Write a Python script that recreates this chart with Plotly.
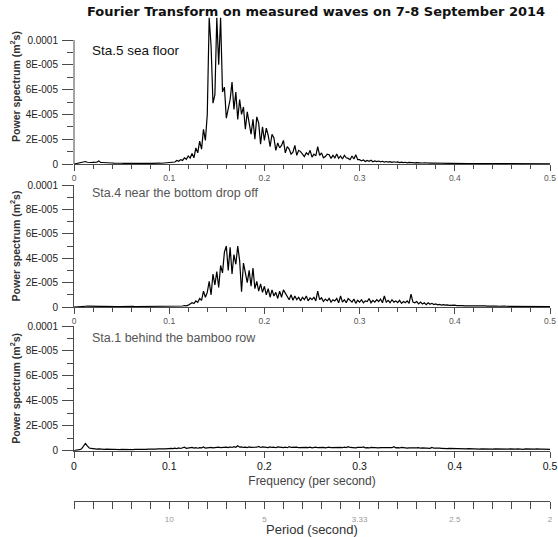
import numpy as np
import plotly.graph_objects as go

# Frequency grid (cycles per second), 0.002 spacing from 0 to 0.5
FREQ = np.round(np.arange(251) * 0.002, 3)

# Power spectra in units of 1e-6 m^2 s
STA5_SEA_FLOOR = [
    0.0, 0.3, 0.6, 1.0, 1.3, 1.5, 2.0, 1.4, 1.6, 1.2,
    1.3, 1.1, 1.4, 2.5, 1.3, 1.2, 1.0, 1.1, 0.8, 0.9,
    0.8, 0.7, 0.8, 0.6, 0.7, 0.6, 0.5, 0.6, 0.5, 0.6,
    0.5, 0.5, 0.6, 0.5, 0.6, 0.5, 0.6, 0.5, 0.5, 0.6,
    0.6, 0.5, 0.7, 0.6, 0.6, 0.7, 0.6, 0.8, 0.7, 0.9,
    1.0, 1.3, 2.0, 1.6, 2.8, 2.2, 3.5, 2.9, 5.0, 3.8,
    6.5, 4.8, 8.5, 5.0, 13.0, 9.0, 18.5, 12.0, 28.0, 19.0,
    40.0, 118.0, 95.0, 49.0, 56.0, 118.0, 80.0, 118.0, 58.0, 62.0,
    37.0, 45.0, 52.0, 66.0, 44.0, 58.0, 36.0, 52.0, 40.0, 46.0,
    28.0, 42.0, 31.0, 24.0, 36.0, 20.0, 38.0, 33.0, 16.0, 30.0,
    19.0, 29.0, 23.0, 14.0, 24.0, 21.0, 11.0, 17.0, 13.0, 15.0,
    19.0, 9.0, 14.0, 12.0, 8.0, 9.5, 15.0, 7.0, 11.0, 10.0,
    8.0, 6.0, 9.0, 7.5, 11.0, 5.5, 8.0, 6.5, 14.0, 7.0,
    9.0, 5.0, 6.0, 8.0, 7.5, 4.5, 7.0, 5.0, 8.0, 4.5,
    6.5, 4.0, 7.0, 5.0, 4.5, 3.5, 6.5, 4.0, 7.5, 3.5,
    3.5, 2.5, 3.2, 2.0, 2.8, 2.2, 3.0, 1.8, 2.5, 2.0,
    2.4, 1.7, 2.2, 1.5, 2.0, 1.6, 1.9, 1.3, 1.8, 1.4,
    1.7, 1.2, 1.5, 1.1, 1.4, 1.0, 1.3, 1.0, 1.2, 0.9,
    1.1, 0.9, 1.0, 0.8, 1.0, 0.7, 0.9, 0.7, 0.8, 0.7,
    0.8, 0.6, 0.7, 0.6, 0.7, 0.5, 0.6, 0.5, 0.6, 0.5,
    0.5, 0.4, 0.5, 0.4, 0.5, 0.4, 0.4, 0.3, 0.4, 0.3,
    0.4, 0.3, 0.3, 0.4, 0.3, 0.3, 0.3, 0.2, 0.3, 0.3,
    0.3, 0.2, 0.3, 0.2, 0.3, 0.2, 0.2, 0.3, 0.2, 0.2,
    0.2, 0.2, 0.3, 0.2, 0.2, 0.2, 0.2, 0.2, 0.3, 0.2,
    0.2, 0.2, 0.2, 0.2, 0.3, 0.2, 0.2, 0.2, 0.2, 0.2, 0.2,
]

STA4_DROP_OFF = [
    0.0, 0.2, 0.4, 0.5, 0.6, 0.5, 0.6, 0.7, 0.6, 0.5,
    0.6, 0.5, 0.6, 0.5, 0.5, 0.6, 0.5, 0.4, 0.5, 0.4,
    0.5, 0.4, 0.5, 0.4, 0.4, 0.5, 0.4, 0.4, 0.5, 0.4,
    0.4, 0.5, 0.4, 0.4, 0.5, 0.4, 0.4, 0.5, 0.4, 0.4,
    0.5, 0.4, 0.5, 0.4, 0.5, 0.5, 0.4, 0.5, 0.6, 0.5,
    0.6, 0.5, 0.7, 0.6, 0.8, 0.7, 0.9, 0.8, 1.2, 1.0,
    1.5, 2.5, 3.5, 2.8, 5.0, 3.8, 7.0, 5.5, 13.0, 8.0,
    12.0, 21.0, 10.0, 27.0, 18.0, 29.0, 16.0, 34.0, 28.0, 45.0,
    50.0, 30.0, 49.0, 27.0, 43.0, 35.0, 50.0, 38.0, 12.5, 36.0,
    28.0, 20.0, 30.0, 17.0, 32.0, 15.0, 21.0, 13.0, 19.0, 12.0,
    17.0, 10.0, 15.0, 8.0, 14.0, 9.0, 12.0, 7.0, 13.0, 8.0,
    14.0, 11.0, 9.0, 6.0, 10.0, 5.5, 9.0, 6.0, 8.0, 5.0,
    8.0, 6.0, 9.0, 5.0, 7.5, 6.0, 8.0, 5.0, 13.0, 6.0,
    7.5, 4.5, 6.5, 5.0, 7.0, 4.0, 6.0, 5.0, 7.0, 3.5,
    9.0, 4.0, 6.0, 3.5, 7.0, 5.0, 4.0, 6.5, 3.0, 5.5,
    4.0, 6.0, 3.5, 5.0, 4.5, 7.0, 3.5, 5.5, 4.0, 6.0,
    4.5, 6.5, 3.5, 9.0, 4.0, 5.5, 3.5, 6.0, 4.0, 5.0,
    3.5, 5.5, 3.0, 4.5, 3.5, 5.0, 3.0, 10.5, 4.0, 3.5,
    4.5, 2.5, 4.0, 2.5, 3.5, 2.0, 3.5, 2.2, 3.0, 2.0,
    2.5, 1.8, 2.2, 1.6, 2.0, 1.5, 1.8, 1.4, 1.6, 1.3,
    1.5, 1.2, 1.3, 1.1, 1.2, 1.0, 1.1, 1.0, 1.1, 0.9,
    1.0, 0.9, 1.0, 0.8, 0.9, 0.8, 0.9, 0.7, 0.8, 0.7,
    0.8, 0.7, 0.7, 0.6, 0.8, 0.6, 0.7, 0.6, 0.6, 0.7,
    0.6, 0.5, 0.6, 0.5, 0.6, 0.5, 0.5, 0.6, 0.5, 0.5,
    0.5, 0.5, 0.4, 0.5, 0.5, 0.4, 0.5, 0.4, 0.4, 0.5, 0.4,
]

STA1_BAMBOO_ROW = [
    0.0, 0.2, 0.4, 0.8, 1.5, 3.2, 5.8, 3.8, 2.2, 1.8,
    1.5, 1.8, 1.3, 1.5, 1.2, 1.4, 1.1, 1.3, 1.0, 1.2,
    1.0, 1.1, 0.9, 1.0, 0.8, 1.0, 0.9, 0.8, 1.0, 0.9,
    1.0, 0.9, 1.1, 1.0, 1.2, 1.0, 1.1, 1.2, 1.0, 1.3,
    1.2, 1.1, 1.4, 1.2, 1.5, 1.3, 1.6, 1.4, 1.5, 1.7,
    1.5, 1.8, 1.6, 2.0, 1.7, 2.2, 1.8, 2.0, 2.8, 1.9,
    2.2, 2.0, 2.6, 2.1, 2.4, 2.0, 2.5, 2.2, 3.0, 2.1,
    2.4, 2.2, 2.7, 2.3, 2.5, 2.1, 2.8, 2.4, 2.6, 2.2,
    2.9, 2.5, 3.0, 2.6, 3.2, 2.7, 4.0, 2.8, 3.1, 2.6,
    2.9, 2.5, 3.1, 2.7, 2.6, 3.0, 2.8, 3.4, 2.6, 3.0,
    2.7, 2.9, 2.5, 3.1, 2.6, 2.8, 2.4, 3.0, 2.6, 2.7,
    2.5, 2.8, 2.4, 3.2, 2.6, 2.7, 2.5, 2.9, 2.4, 2.6,
    2.8, 2.4, 2.7, 2.5, 2.9, 2.3, 2.6, 2.8, 2.4, 2.7,
    2.5, 2.7, 2.3, 2.6, 2.8, 2.4, 2.5, 2.3, 2.7, 2.5,
    2.6, 2.4, 2.8, 2.5, 3.2, 2.6, 2.4, 2.7, 2.3, 2.6,
    2.4, 2.6, 3.0, 2.3, 2.5, 2.2, 2.6, 2.4, 2.3, 2.5,
    2.2, 2.4, 2.3, 2.5, 2.2, 2.6, 2.3, 2.4, 3.2, 2.3,
    2.5, 2.2, 2.6, 2.3, 2.4, 2.1, 2.3, 2.2, 2.4, 2.0,
    2.2, 2.4, 2.0, 2.3, 2.1, 2.0, 2.2, 1.9, 2.6, 2.0,
    2.1, 1.8, 2.0, 1.9, 1.7, 1.9, 1.6, 1.8, 1.7, 1.6,
    1.7, 1.5, 1.6, 1.7, 1.5, 1.6, 1.4, 1.6, 1.5, 1.4,
    1.6, 1.4, 1.5, 1.3, 1.5, 1.4, 1.6, 1.3, 1.4, 1.5,
    1.3, 1.5, 1.4, 1.2, 1.4, 1.3, 1.5, 1.2, 1.3, 1.4,
    1.2, 1.4, 1.3, 1.5, 1.2, 1.3, 1.1, 1.4, 1.3, 1.2,
    1.3, 1.1, 1.2, 1.4, 1.1, 1.2, 1.3, 1.1, 1.2, 1.1, 1.0,
]

STATION_NAMES = [
    "Sta.5 sea floor",
    "Sta.4 near the bottom drop off",
    "Sta.1 behind the bamboo row",
]
FREQ_TICKS = [0, 0.1, 0.2, 0.3, 0.4, 0.5]
FREQ_TICK_LABELS = ["0", "0.1", "0.2", "0.3", "0.4", "0.5"]
PSD_TICKS = [0, 2e-5, 4e-5, 6e-5, 8e-5, 1e-4]
PSD_TICK_LABELS = ["0", "2E-005", "4E-005", "6E-005", "8E-005", "0.0001"]
PERIOD_TICKS = [0.1, 0.2, 0.3, 0.4, 0.5]
PERIOD_TICK_LABELS = ["10", "5", "3.33", "2.5", "2"]

TITLE = "Fourier Transform on measured waves on 7-8 September 2014"
Y_TITLE = "<b>Power spectrum (m<sup>2</sup>s)</b>"

W, H = 558, 537
FONT = "Arial, Liberation Sans, sans-serif"
AX = "#4a4a4a"


def py(px):
    """Pixel row (from top) to paper fraction."""
    return 1 - px / H


x_dom = [74 / W, 550 / W]
panels = [
    dict(data=STA5_SEA_FLOOR, ydom=[py(164), py(9)], yrange=[0, 1.25e-4], label_y=50),
    dict(data=STA4_DROP_OFF, ydom=[py(307), py(185)], yrange=[0, 1e-4], label_y=193),
    dict(data=STA1_BAMBOO_ROW, ydom=[py(450.7), py(326)], yrange=[0, 1e-4], label_y=338),
]

fig = go.Figure()
layout = dict(
    width=W, height=H, autosize=False,
    margin=dict(l=0, r=0, t=0, b=0, autoexpand=False),
    paper_bgcolor="white", plot_bgcolor="white",
    showlegend=False,
    font=dict(family=FONT, color="#222"),
)
annotations = []
shapes = []

for k, p in enumerate(panels):
    n = k + 1
    xa = "x" if n == 1 else f"x{n}"
    ya = "y" if n == 1 else f"y{n}"
    fig.add_trace(go.Scatter(
        x=FREQ, y=np.array(p["data"]) * 1e-6, xaxis=xa, yaxis=ya,
        mode="lines", line=dict(color="black", width=1.2),
        hoverinfo="skip",
    ))
    bottom = n == 3
    xaxis = dict(
        domain=x_dom, anchor=ya, range=[0, 0.5], automargin=False,
        showline=True, linecolor=AX, linewidth=1, mirror=False,
        showgrid=False, zeroline=False,
        tickmode="array", tickvals=FREQ_TICKS, ticktext=FREQ_TICK_LABELS,
        ticks="outside", ticklen=6, tickcolor=AX, tickwidth=1,
        tickfont=dict(size=10.5 if bottom else 8.5, color="#111" if bottom else "#555"),
        minor=dict(dtick=0.02, ticks="outside", ticklen=4, tickcolor=AX, tickwidth=1),
    )
    if bottom:
        xaxis["title"] = dict(text="Frequency (per second)",
                              font=dict(size=12, color="#444"), standoff=5)
    layout[f"xaxis{'' if n == 1 else n}"] = xaxis
    layout[f"yaxis{'' if n == 1 else n}"] = dict(
        domain=p["ydom"], anchor=xa, range=p["yrange"], automargin=False,
        showline=(n != 1), linecolor=AX, linewidth=1,
        showgrid=False, zeroline=False,
        tickmode="array", tickvals=PSD_TICKS, ticktext=PSD_TICK_LABELS,
        ticks="outside", ticklen=11, tickcolor=AX, tickwidth=1,
        ticklabelstandoff=2,
        tickfont=dict(size=10, color="#222"),
        minor=dict(tickmode="array",
                   tickvals=[1e-5, 3e-5, 5e-5, 7e-5, 9e-5],
                   ticks="outside", ticklen=6, tickcolor=AX, tickwidth=1),
        title=dict(text=Y_TITLE, font=dict(size=10.5, color="#333"), standoff=3),
    )
    annotations.append(dict(
        text=STATION_NAMES[k], xref="paper", yref="paper",
        x=90 / W, y=py(p["label_y"]), xanchor="left", yanchor="middle",
        showarrow=False,
        font=dict(size=13.5 if n == 1 else 12.5, color="#111" if n == 1 else "#555"),
    ))

# Left axis line of the top panel stops at 0.0001 while the spikes run above it
shapes.append(dict(type="line", xref="x domain", yref="y", x0=0, x1=0, y0=0, y1=1e-4,
                   line=dict(color=AX, width=1)))

# Period scale sharing the frequency positions
fig.add_trace(go.Scatter(x=[None], y=[None], xaxis="x4", yaxis="y4",
                         mode="lines", hoverinfo="skip"))
layout["xaxis4"] = dict(
    domain=x_dom, anchor="y4", range=[0, 0.5], automargin=False,
    showline=True, linecolor=AX, linewidth=1, showgrid=False, zeroline=False,
    tickmode="array", tickvals=PERIOD_TICKS, ticktext=PERIOD_TICK_LABELS,
    ticks="outside", ticklen=7, tickcolor=AX, tickwidth=1,
    ticklabelstandoff=3,
    tickfont=dict(size=8, color="#999"),
    minor=dict(dtick=0.02, tick0=0, ticks="outside", ticklen=7, tickcolor=AX, tickwidth=1),
    title=dict(text="Period (second)", font=dict(size=13, color="#333"), standoff=1),
)
layout["yaxis4"] = dict(domain=[py(501), py(499)], anchor="x4", range=[0, 1],
                        visible=False, showgrid=False, zeroline=False, automargin=False)

annotations.append(dict(
    text=f"<b>{TITLE}</b>", xref="paper", yref="paper",
    x=85 / W, y=py(12), xanchor="left", yanchor="middle", showarrow=False,
    font=dict(family="DejaVu Sans, Verdana, sans-serif", size=13, color="#111"),
))

layout["annotations"] = annotations
layout["shapes"] = shapes
fig.update_layout(**layout)
fig.write_html("out.html")
